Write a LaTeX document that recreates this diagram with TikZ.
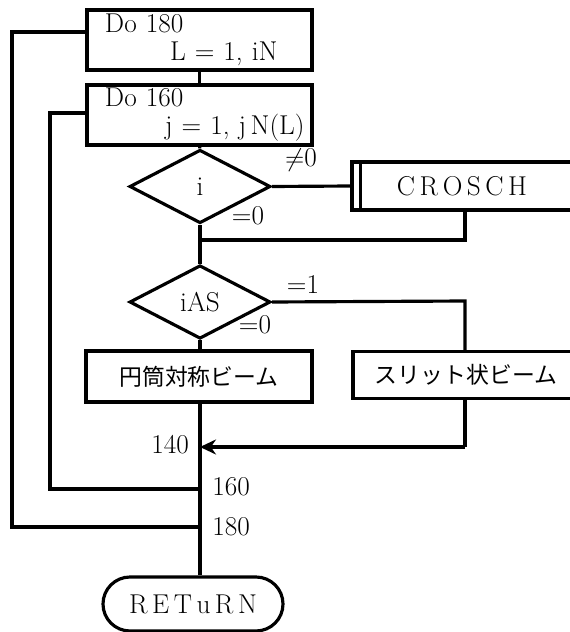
\documentclass[tikz,border=0pt]{standalone}
\usepackage{fontspec}
\newfontfamily\jp{Noto Sans CJK JP}
\usetikzlibrary{shapes.geometric,arrows.meta}
\begin{document}
\begin{tikzpicture}[x=0.2mm, y=-0.2mm,
        every node/.style={font=\fontsize{15.5}{17}\selectfont},
        proc/.style={rectangle, draw, line width=1.8pt, inner sep=0pt},
        cond/.style={diamond, draw, line width=1.8pt, inner sep=0pt, aspect=2, minimum width=28.2mm, minimum height=14.7mm},
        term/.style={rectangle, draw, line width=1.8pt, rounded corners=5.4mm, minimum width=36mm, minimum height=10.8mm},
        line/.style={line width=1.8pt},
        arrow/.style={line width=1.8pt, -{Stealth[length=3.2mm, width=3mm]}},
        jtext/.style={font=\jp\fontsize{13}{15}\selectfont},
        lab/.style={inner sep=1pt}
    ]
    \useasboundingbox (0,0) rectangle (570,632);
    \clip (0,0) rectangle (570,632);

    \node[proc, text width=37.8mm, inner xsep=3.6mm, minimum height=12mm, align=left] (do180) at (199.5,40) {Do 180\\[-1pt]\hspace*{13mm}L = 1, iN};
    \node[proc, text width=37.8mm, inner xsep=3.6mm, minimum height=12mm, align=left] (do160) at (199.5,115) {Do 160\\[-1pt]\hspace*{12mm}j = 1, j\,N(L)\kern-6mm};
    \node[cond] (ci) at (200,186.5) {i};
    \node[proc, minimum width=44mm, minimum height=9.6mm] (crosch) at (462,186) {C\,R\,O\,S\,C\,H};
    \node[cond] (cias) at (200,302) {iAS};
    \node[proc, minimum width=45.2mm, minimum height=10.2mm, jtext] (cyl) at (199,376.5) {円筒対称ビーム};
    \node[proc, minimum width=45.2mm, minimum height=9.4mm, jtext] (slit) at (466,375) {スリット状ビーム};
    \node[term] (ret) at (193,604) {R\,E\,T\,u\,R\,N};

    \coordinate (j1) at (200,240);
    \coordinate (cr) at (465,240);
    \coordinate (sr) at (465,301);
    \coordinate (s140) at (465,447);
    \coordinate (m140) at (200,447);
    \coordinate (m160) at (200,489);
    \coordinate (m180) at (200,527);
    \coordinate (l180) at (12,32);
    \coordinate (l160) at (50,113);

    \draw[line] (do180) -- (do160);
    \draw[line] (do160) -- (ci);
    \draw[line] (ci.east) -- (crosch.west);
    \draw[line] ([xshift=2mm]crosch.north west) -- ([xshift=2mm]crosch.south west);
    \draw[line] (ci.south) -- (j1) -- (cr) -- (cr |- crosch.south);
    \draw[line] (j1) -- (cias.north);
    \draw[line] (cias.east) -- (sr) -- (sr |- slit.north);
    \draw[line] (cias.south) -- (cias.south |- cyl.north);
    \draw[line] (cyl.south -| m140) -- (m140 |- ret.north);
    \draw[line] (slit.south -| s140) -- (s140);
    \draw[arrow] (s140) -- (m140);

    % loop returns
    \draw[line] (l160 -| do160.west) -- (l160) |- (m160);
    \draw[line] (l180 -| do180.west) -- (l180) |- (m180);

    \node[lab] at (301,160) {$\neq$0};
    \node[lab] at (248,216) {=0};
    \node[lab] at (303,284) {=1};
    \node[lab] at (255,325) {=0};
    \node[lab] at (170,445) {140};
    \node[lab] at (231,487) {160};
    \node[lab] at (231,527) {180};
\end{tikzpicture}
\end{document}
